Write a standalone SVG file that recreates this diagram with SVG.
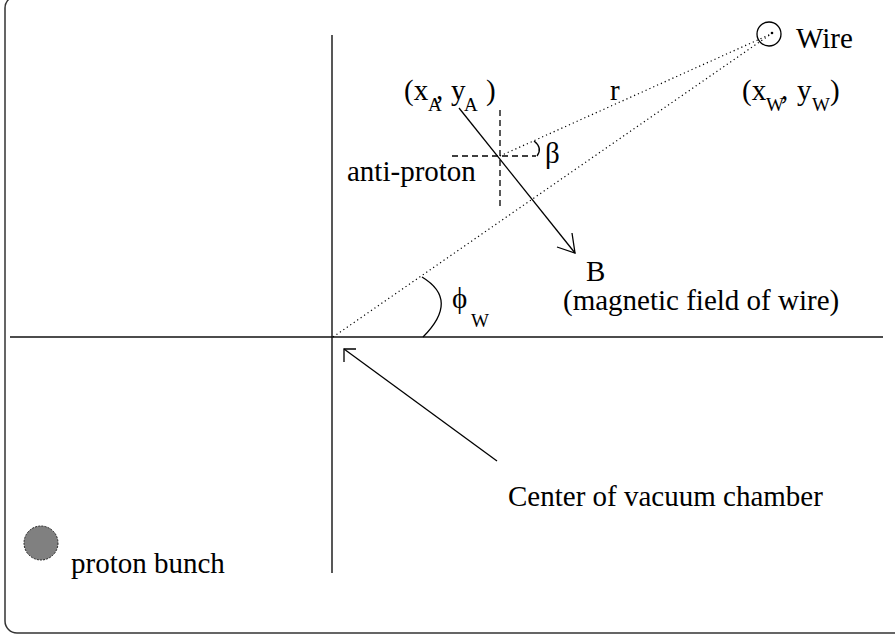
<svg xmlns="http://www.w3.org/2000/svg" width="895" height="638" viewBox="0 0 895 638">
<style>
  .t { font-family: 'Liberation Serif', 'DejaVu Serif', serif; font-size: 29px; fill: #000; }
  .sub { font-size: 19px; }
  .solid { stroke: #000; stroke-width: 1.3; fill: none; }
  .axis { stroke: #111; stroke-width: 1.4; fill: none; }
  .dot { stroke: #000; stroke-width: 1.2; fill: none; stroke-dasharray: 1.2 3; }
  .dash { stroke: #000; stroke-width: 1.3; fill: none; stroke-dasharray: 6 4; }
  .head { stroke: #000; stroke-width: 1.3; fill: none; }
</style>
<rect width="895" height="638" fill="#fff"/>
<rect id="frame" x="5" y="-4" width="930" height="637" rx="12" ry="12" fill="none" stroke="#333" stroke-width="1.5"/>

<g id="axes">
  <line class="axis" x1="10" y1="337" x2="883" y2="337"/>
  <line class="axis" x1="332" y1="35" x2="332" y2="573"/>
</g>

<g id="connectors">
  <line class="dot" x1="333" y1="337" x2="771" y2="34"/>
  <line class="dot" x1="500" y1="156" x2="771" y2="34"/>
  <line class="dash" x1="500" y1="110" x2="500" y2="207"/>
  <line class="dash" x1="452" y1="156" x2="536" y2="156"/>
  <path class="solid" d="M534,141 Q543,148 537,156"/>
  <path class="solid" d="M422,277 Q460,300 423,337"/>
  <line class="solid" x1="459" y1="108" x2="575" y2="253"/>
  <polyline class="head" points="557,247 575,253 572,233"/>
  <line class="solid" x1="497" y1="461" x2="344" y2="349"/>
  <polyline class="head" points="356,349 344,349 344,362"/>
</g>

<g id="wire" class="t">
  <circle cx="769" cy="34" r="12" fill="none" stroke="#000" stroke-width="1.3"/>
  <circle cx="772" cy="33" r="1.3" fill="#000"/>
  <text x="796" y="48">Wire</text>
</g>

<g id="wire-coords" class="t">
  <text x="742" y="100">(x</text>
  <text class="sub" x="766" y="111">W</text>
  <text x="781" y="99">,</text>
  <text x="797" y="100">y</text>
  <text class="sub" x="812" y="111">W</text>
  <text x="830" y="100">)</text>
</g>

<g id="antiproton-coords" class="t">
  <text x="404" y="100">(x</text>
  <text class="sub" x="428" y="111">A</text>
  <text x="436" y="99">,</text>
  <text x="451" y="100">y</text>
  <text class="sub" x="464" y="111">A</text>
  <text x="486" y="100">)</text>
</g>

<g id="labels" class="t">
  <text x="610" y="100">r</text>
  <text x="545" y="163">β</text>
  <text x="347" y="181">anti-proton</text>
  <text x="586" y="281">B</text>
  <text x="563" y="310">(magnetic field of wire)</text>
  <text x="452" y="308">ϕ</text>
  <text class="sub" x="471" y="327">W</text>
  <text x="508" y="506">Center of vacuum chamber</text>
</g>

<g id="proton-bunch" class="t">
  <circle cx="41" cy="543" r="17" fill="#808080" stroke="#222" stroke-width="1" stroke-dasharray="2 1.2"/>
  <text x="71" y="573">proton bunch</text>
</g>
</svg>
